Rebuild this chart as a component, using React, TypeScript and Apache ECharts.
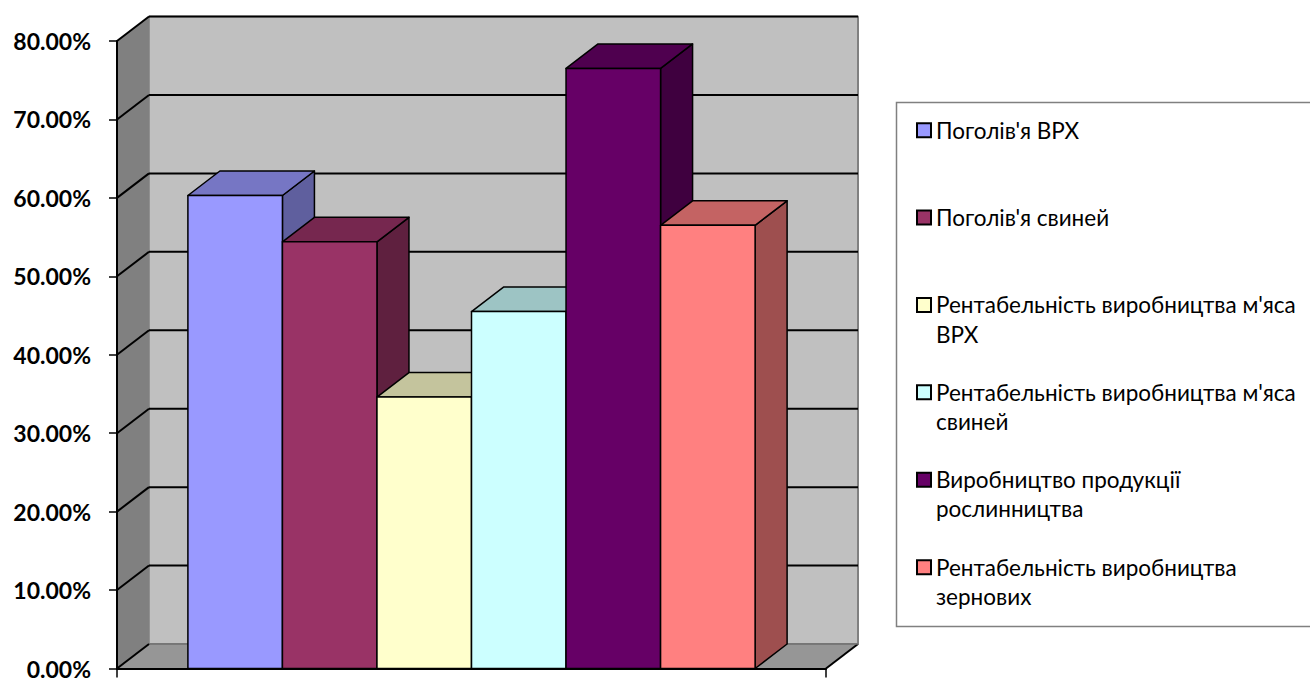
import React, { useEffect, useRef } from 'react';
import * as echarts from 'echarts';

const categories: string[] = [''];
const seriesNames: string[] = [
  "Поголів'я ВРХ",
  "Поголів'я свиней",
  "Рентабельність виробництва м'яса ВРХ",
  "Рентабельність виробництва м'яса свиней",
  'Виробництво продукції рослинництва',
  'Рентабельність виробництва зернових',
];
const seriesValues: number[] = [0.603, 0.544, 0.346, 0.455, 0.765, 0.565];
const seriesColors: string[] = ['#9999ff', '#993366', '#ffffcc', '#ccffff', '#660066', '#ff8080'];
const yTicks: number[] = [0, 0.1, 0.2, 0.3, 0.4, 0.5, 0.6, 0.7, 0.8];
const legendWrapped: Record<string, string> = {
  "Рентабельність виробництва м'яса ВРХ": "Рентабельність виробництва м'яса\nВРХ",
  "Рентабельність виробництва м'яса свиней": "Рентабельність виробництва м'яса\nсвиней",
  'Виробництво продукції рослинництва': 'Виробництво продукції\nрослинництва',
  'Рентабельність виробництва зернових': 'Рентабельність виробництва\nзернових',
};

const DX = 32;
const DY = 24.5;
const FONT = "Lato, 'Open Sans', 'Noto Sans', sans-serif";

function shade(hex: string, f: number): string {
  const n = parseInt(hex.slice(1), 16);
  const r = Math.round(((n >> 16) & 255) * f);
  const g = Math.round(((n >> 8) & 255) * f);
  const b = Math.round((n & 255) * f);
  return 'rgb(' + r + ',' + g + ',' + b + ')';
}

export default function App() {
  const ref = useRef<HTMLDivElement>(null);
  useEffect(() => {
    if (!ref.current) return;
    const chart = echarts.init(ref.current, undefined, { renderer: 'svg' });

    const wallSeries: any = {
      type: 'custom',
      name: '__walls',
      clip: false,
      z: 1,
      silent: true,
      encode: { x: 0, y: 1 },
      data: yTicks.map((v) => [0, v]),
      renderItem: (params: any, api: any) => {
        const cs = params.coordSys;
        const L = cs.x;
        const R = cs.x + cs.width;
        const T = cs.y;
        const B = cs.y + cs.height;
        const v = api.value(1);
        const y = api.coord([0, v])[1];
        const children: any[] = [];
        if (params.dataIndex === 0) {
          children.push({
            type: 'rect',
            shape: { x: L + DX, y: T - DY, width: R - L, height: B - T },
            style: { fill: '#c0c0c0', stroke: '#808080', lineWidth: 1.5 },
          });
          children.push({
            type: 'polygon',
            shape: { points: [[L, T], [L + DX, T - DY], [L + DX, B - DY], [L, B]] },
            style: { fill: '#808080', stroke: 'none' },
          });
          children.push({
            type: 'polygon',
            shape: { points: [[L, B], [R, B], [R + DX, B - DY], [L + DX, B - DY]] },
            style: { fill: '#969696', stroke: 'none' },
          });
          children.push({
            type: 'line',
            shape: { x1: R, y1: B, x2: R + DX, y2: B - DY },
            style: { stroke: '#000', lineWidth: 2 },
          });
          children.push({
            type: 'line',
            shape: { x1: R + DX, y1: T - DY, x2: R + DX, y2: B - DY },
            style: { stroke: '#808080', lineWidth: 2 },
          });
        }
        children.push({
          type: 'line',
          shape: { x1: L + DX, y1: y - DY, x2: R + DX, y2: y - DY },
          style: { stroke: v === 0 ? '#6e6e6e' : '#000', lineWidth: v === 0 ? 1.5 : 2 },
        });
        children.push({
          type: 'line',
          shape: { x1: L, y1: y, x2: L + DX, y2: y - DY },
          style: { stroke: '#000', lineWidth: 2 },
        });
        return { type: 'group', children };
      },
    };

    const n = seriesNames.length;
    const barSeries: any[] = seriesNames.map((name, idx) => ({
      type: 'custom',
      name,
      clip: false,
      z: 3,
      itemStyle: { color: seriesColors[idx] },
      encode: { x: 0, y: 1 },
      data: [[0, seriesValues[idx]]],
      renderItem: (params: any, api: any) => {
        const band = api.size([1, 0])[0];
        const top = api.coord([0, api.value(1)]);
        const base = api.coord([0, 0]);
        const w = (band * 0.8) / n;
        const x0 = top[0] - band * 0.4 + idx * w;
        const x1 = x0 + w;
        const yT = top[1];
        const yB = base[1];
        const c = seriesColors[idx];
        const st = { stroke: '#000', lineWidth: 1.5, lineJoin: 'round' };
        return {
          type: 'group',
          children: [
            {
              type: 'polygon',
              shape: { points: [[x1, yT], [x1 + DX, yT - DY], [x1 + DX, yB - DY], [x1, yB]] },
              style: { fill: shade(c, 0.62), ...st },
            },
            {
              type: 'polygon',
              shape: { points: [[x0, yT], [x0 + DX, yT - DY], [x1 + DX, yT - DY], [x1, yT]] },
              style: { fill: shade(c, 0.77), ...st },
            },
            {
              type: 'rect',
              shape: { x: x0, y: yT, width: w, height: yB - yT },
              style: { fill: c, ...st },
            },
          ],
        };
      },
    }));

    chart.setOption({
      animation: false,
      backgroundColor: '#ffffff',
      grid: { left: 117, right: 484, top: 41, bottom: 9.5, containLabel: false },
      xAxis: {
        type: 'category',
        data: categories,
        z: 10,
        boundaryGap: true,
        axisLine: { show: true, lineStyle: { color: '#000', width: 2 } },
        axisTick: { show: true, length: 9, lineStyle: { color: '#000', width: 1.5 } },
        axisLabel: { show: false },
        splitLine: { show: false },
      },
      yAxis: {
        type: 'value',
        min: 0,
        max: 0.8,
        interval: 0.1,
        z: 10,
        axisLine: { show: true, lineStyle: { color: '#000', width: 2 } },
        axisTick: { show: true, length: 8, lineStyle: { color: '#000', width: 1.5 } },
        splitLine: { show: false },
        axisLabel: {
          margin: 26,
          color: '#000',
          fontSize: 23,
          fontWeight: 'bold',
          fontFamily: FONT,
          formatter: (v: number) => (v * 100).toFixed(2) + '%',
        },
      },
      legend: {
        orient: 'vertical',
        left: 916,
        top: 86.5,
        padding: 0,
        itemGap: 0,
        itemWidth: 14,
        itemHeight: 14,
        icon: 'rect',
        selectedMode: false,
        data: seriesNames,
        itemStyle: { borderColor: '#000', borderWidth: 2 },
        textStyle: { color: '#000', fontSize: 22.5, fontFamily: FONT, lineHeight: 29.13 },
        formatter: (name: string) =>
          legendWrapped[name] ? '\n' + legendWrapped[name] : '\n' + name + '\n',
      },
      graphic: [
        {
          type: 'rect',
          left: 894,
          top: 100,
          shape: { x: 0, y: 0, width: 440, height: 524 },
          style: { fill: 'none', stroke: '#808080', lineWidth: 1.5 },
          silent: true,
        },
      ],
      series: [wallSeries, ...barSeries],
    });
    return () => chart.dispose();
  }, []);
  return (
    <div
      ref={ref}
      style={{ position: 'fixed', left: 0, top: 0, width: 1310, height: 680, background: '#fff' }}
    />
  );
}
